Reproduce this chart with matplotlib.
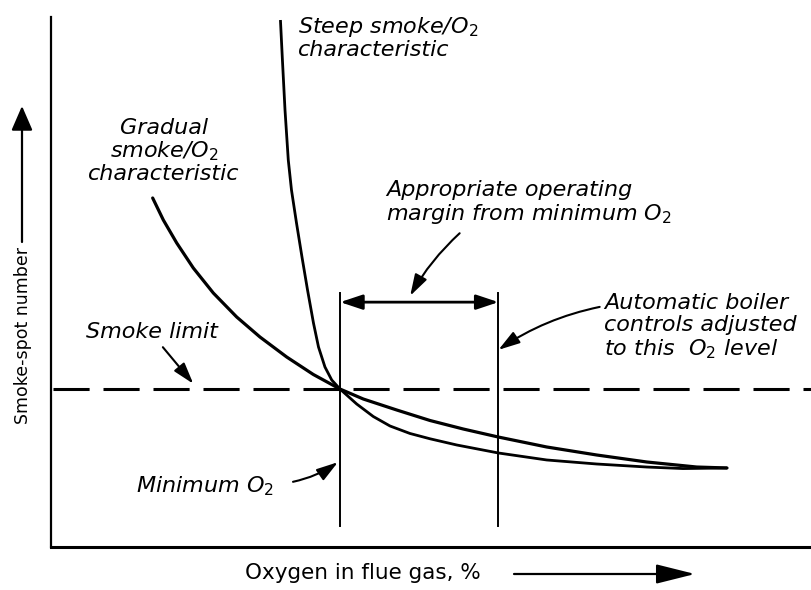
import matplotlib
matplotlib.use("Agg")
import matplotlib.pyplot as plt
from matplotlib.patches import FancyArrowPatch

plt.rcParams['font.family'] = ['DejaVu Sans']
plt.rcParams['mathtext.fontset'] = 'dejavusans'
plt.rcParams['lines.scale_dashes'] = False

# ---- data (arbitrary units) ----
gradual_x = [1.336, 1.476, 1.652, 1.870, 2.133, 2.440, 2.746, 3.097, 3.447, 3.797,
             4.104, 4.543, 4.980, 5.418, 5.878, 6.514, 7.171, 7.828, 8.485, 8.883]
gradual_y = [6.585, 6.170, 5.736, 5.264, 4.792, 4.340, 3.962, 3.585, 3.255, 2.981,
             2.792, 2.585, 2.387, 2.226, 2.075, 1.887, 1.736, 1.604, 1.509, 1.491]

steep_x = [3.015, 3.041, 3.075, 3.118, 3.160, 3.226, 3.298, 3.371, 3.449, 3.515, 3.600, 3.689,
           3.797, 4.017, 4.235, 4.455, 4.717, 4.980, 5.331, 5.878, 6.514, 7.171, 7.828, 8.305, 8.883]
steep_y = [9.943, 9.189, 8.245, 7.302, 6.736, 6.113, 5.472, 4.849, 4.226, 3.774, 3.396, 3.151,
           2.981, 2.698, 2.462, 2.283, 2.142, 2.042, 1.925, 1.774, 1.642, 1.566, 1.509, 1.480, 1.491]

smoke_limit = 2.98
min_o2 = 3.80
operating_o2 = 5.88
marker_line_bottom = 0.40
marker_line_top = 4.80
margin_arrow_y = 4.62

W, H = 812, 590
fig = plt.figure(figsize=(W / 100, H / 100), dpi=100)
ax = fig.add_axes([51 / W, (H - 547) / H, (W - 51) / W, (547 - 17) / H])
ax.set_xlim(0, 10)
ax.set_ylim(0, 10)
ax.set_xticks([])
ax.set_yticks([])
for s in ['top', 'right']:
    ax.spines[s].set_visible(False)
ax.spines['left'].set_linewidth(1.6)
ax.spines['bottom'].set_linewidth(2.2)

ink = 'black'

# curves
ax.plot(gradual_x, gradual_y, color=ink, lw=2.3, solid_capstyle='round',
        solid_joinstyle='round', clip_on=False)
ax.plot(steep_x, steep_y, color=ink, lw=2.0, solid_capstyle='butt',
        solid_joinstyle='round', clip_on=False)

# smoke limit
ax.plot([0.02, 10], [smoke_limit, smoke_limit], color=ink, lw=2.2, dashes=(26, 10), clip_on=False)

# vertical marker lines
ax.plot([min_o2, min_o2], [marker_line_bottom, marker_line_top], color=ink, lw=1.4)
ax.plot([operating_o2, operating_o2], [marker_line_bottom, marker_line_top], color=ink, lw=1.4)

# operating margin double arrow
ax.annotate('', xy=(min_o2, margin_arrow_y), xytext=(operating_o2, margin_arrow_y),
            arrowprops=dict(arrowstyle='<|-|>,head_length=1.35,head_width=0.45',
                            mutation_scale=10, color=ink, lw=2.0,
                            shrinkA=0, shrinkB=0))

def px(x, y):
    return (x / W, 1 - y / H)

tkw = dict(fontsize=16, style='italic', color=ink)

# annotation texts (y = baseline of the last line)
fig.text(*px(298, 56), 'Steep smoke/O$_2$\ncharacteristic', ha='left', va='baseline',
         linespacing=1.08, **tkw)
fig.text(*px(164, 180), 'Gradual\nsmoke/O$_2$\ncharacteristic', ha='center', va='baseline',
         multialignment='center', linespacing=1.08, **tkw)
fig.text(*px(386, 220), 'Appropriate operating\nmargin from minimum O$_2$', ha='left',
         va='baseline', linespacing=1.12, **tkw)
fig.text(*px(604, 355), 'Automatic boiler\ncontrols adjusted\nto this  O$_2$ level', ha='left',
         va='baseline', linespacing=1.12, **tkw)
fig.text(*px(86, 338), 'Smoke limit', ha='left', va='baseline', **tkw)
fig.text(*px(136, 492), 'Minimum O$_2$', ha='left', va='baseline', **tkw)

arrow_kw = dict(arrowstyle='-|>,head_length=1.3,head_width=0.4', mutation_scale=10,
                color=ink, lw=1.5, shrinkA=0, shrinkB=0)

ax.annotate('', xy=(4.72, 4.74), xytext=(5.37, 5.92),
            arrowprops=dict(connectionstyle='arc3,rad=0.08', **arrow_kw))
ax.annotate('', xy=(operating_o2, 3.72), xytext=(7.21, 4.53),
            arrowprops=dict(connectionstyle='arc3,rad=0.1', **arrow_kw))
ax.annotate('', xy=(1.87, 3.08), xytext=(1.47, 3.77),
            arrowprops=dict(connectionstyle='arc3,rad=0.0', **arrow_kw))
ax.annotate('', xy=(min_o2 - 0.03, 1.60), xytext=(3.18, 1.23),
            arrowprops=dict(connectionstyle='arc3,rad=0.1', **arrow_kw))

# axis labels with arrows
fig.text(*px(23, 336), 'Smoke-spot number', rotation=90, ha='center', va='center',
         fontsize=12.5, color=ink)
fig.add_artist(FancyArrowPatch(
    px(22, 242), px(22, 106), transform=fig.transFigure,
    arrowstyle='-|>,head_length=1.5,head_width=0.65', mutation_scale=10,
    color=ink, lw=1.6, shrinkA=0, shrinkB=0))

fig.text(*px(245, 573), 'Oxygen in flue gas, %', ha='left', va='center',
         fontsize=15.5, color=ink)
fig.add_artist(FancyArrowPatch(
    px(514, 574), px(695, 574), transform=fig.transFigure,
    arrowstyle='-|>,head_length=2.4,head_width=0.6', mutation_scale=10,
    color=ink, lw=1.6, shrinkA=0, shrinkB=0))

fig.savefig('out.png', dpi=100)
